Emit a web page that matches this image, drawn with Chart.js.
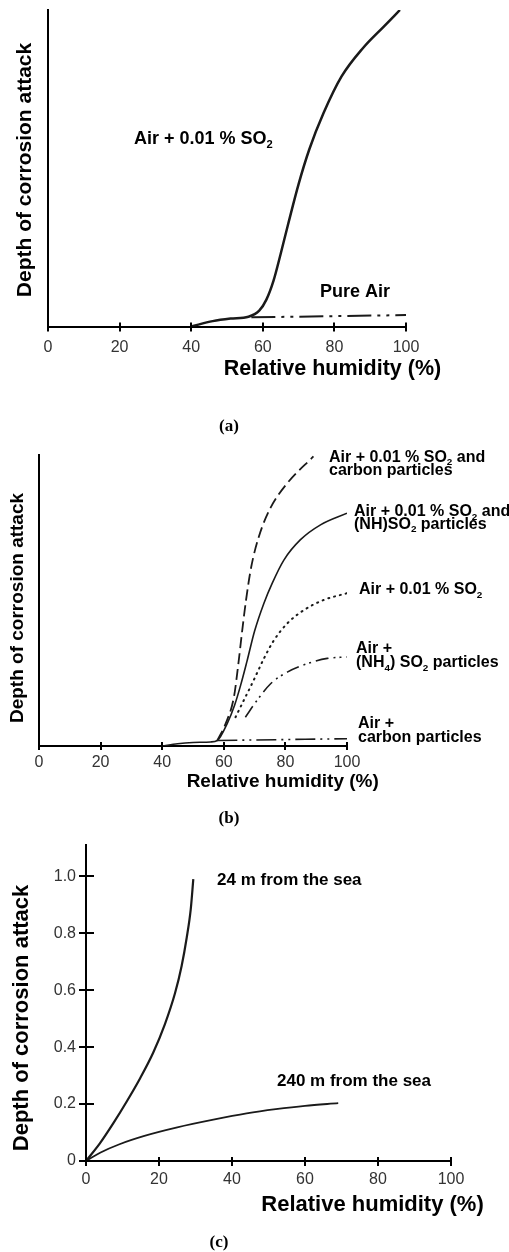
<!DOCTYPE html>
<html>
<head>
<meta charset="utf-8">
<script src="https://cdn.jsdelivr.net/npm/chart.js@4.4.1/dist/chart.umd.min.js"></script>
<style>
  html, body { margin: 0; padding: 0; background: #fff; }
  body { width: 509px; height: 1252px; position: relative; overflow: hidden; }
  canvas { position: absolute; left: 0; }
</style>
</head>
<body>
<canvas id="chart-a" width="509" height="440" style="top:0px"></canvas>
<canvas id="chart-b" width="509" height="400" style="top:440px"></canvas>
<canvas id="chart-c" width="509" height="432" style="top:820px"></canvas>
<script>
// --- Values ---
const rhTicks = [0, 20, 40, 60, 80, 100];
const depthTicksC = [0, 0.2, 0.4, 0.6, 0.8, 1.0];

// (a) arbitrary depth units, 0-100
const aSo2Rh = [40, 46, 51, 56, 59, 61, 63, 65, 67, 70, 73, 77, 82, 88, 94, 98.3];
const aSo2Depth = [0, 1.7, 2.5, 3.1, 5.0, 8.5, 14.5, 23, 32, 45, 56, 67.5, 79, 88, 95, 100];
const aPureRh = [56.8, 100];
const aPureDepth = [2.9, 3.6];

// (b) arbitrary depth units, 0-100
const bCarbonSo2Rh = [57.9, 60.6, 63.3, 64.7, 65.9, 67.2, 68.9, 71.4, 75.0, 80.6, 89.1];
const bCarbonSo2Depth = [1.9, 7.7, 16.9, 28, 39, 50, 61.5, 72, 81.5, 90.3, 99.5];
const bNhSo2Rh = [40, 45, 50, 55.7, 57.9, 61.1, 63.5, 65.5, 67.5, 70, 73, 75.7, 79.5, 84.9, 91.4, 100];
const bNhSo2Depth = [0, 0.8, 1.2, 1.4, 1.9, 7.7, 14, 21, 29, 39.5, 49, 55.9, 63.9, 70.9, 76.0, 80.0];
const bSo2Rh = [63.8, 66.5, 69.7, 73.0, 76.2, 80.6, 86.0, 92.5, 100];
const bSo2Depth = [9.9, 15.7, 22.6, 30, 36.2, 42.1, 46.7, 50.2, 52.5];
const bNh4Rh = [67.0, 70.8, 75.2, 80.6, 87.1, 93.6, 100];
const bNh4Depth = [9.9, 15.7, 21.4, 25.4, 28.3, 30.1, 30.6];
const bCarbonRh = [57.9, 100];
const bCarbonDepth = [1.9, 2.5];

// (c)
const c24Rh = [0, 3.8, 7.5, 11.2, 14.8, 18.4, 21.6, 24.4, 26.2, 27.6, 28.7, 29.4];
const c24Depth = [0, 0.062, 0.133, 0.21, 0.29, 0.38, 0.48, 0.59, 0.685, 0.785, 0.885, 0.99];
const c240Rh = [0, 4, 9, 16, 25, 34.9, 44, 52, 60, 69.1];
const c240Depth = [0, 0.03, 0.058, 0.088, 0.118, 0.145, 0.167, 0.182, 0.194, 0.203];

const SANS = "'Liberation Sans', Arial, sans-serif";
const SERIF = "'Liberation Serif', 'Times New Roman', serif";

function pts(xs, ys) {
  return xs.map((x, i) => ({ x, y: ys[i] }));
}

// text with "_2" style subscripts
function drawRich(ctx, it) {
  const parts = it.text.split(/_(\w)/);
  const size = it.size;
  const sub = size * 0.62;
  const fontFor = (s) => `${it.weight || "bold"} ${s}px ${it.family || SANS}`;
  let w = 0;
  parts.forEach((p, i) => {
    ctx.font = fontFor(i % 2 ? sub : size);
    w += ctx.measureText(p).width;
  });
  ctx.save();
  ctx.translate(it.x, it.y);
  if (it.rotate) ctx.rotate(it.rotate * Math.PI / 180);
  let x = it.align === "center" ? -w / 2 : it.align === "right" ? -w : 0;
  ctx.fillStyle = it.color || "#000";
  ctx.textAlign = "left";
  ctx.textBaseline = it.baseline || "alphabetic";
  parts.forEach((p, i) => {
    ctx.font = fontFor(i % 2 ? sub : size);
    ctx.fillText(p, x, i % 2 ? size * 0.22 : 0);
    x += ctx.measureText(p).width;
  });
  ctx.restore();
}

const textPlugin = {
  id: "texts",
  afterDraw(chart, args, opts) {
    (opts.items || []).forEach((it) => drawRich(chart.ctx, it));
  },
};

// tick stubs on the inner side of the axes
const innerTicks = {
  id: "innerTicks",
  afterDatasetsDraw(chart, args, opts) {
    const { ctx, scales } = chart;
    ctx.save();
    ctx.strokeStyle = "#000";
    ctx.lineWidth = 2;
    if (opts.x) {
      const s = scales.x;
      s.ticks.forEach((t) => {
        const px = Math.round(s.getPixelForValue(t.value));
        ctx.beginPath();
        ctx.moveTo(px, s.top);
        ctx.lineTo(px, s.top - opts.x);
        ctx.stroke();
      });
    }
    if (opts.y) {
      const s = scales.y;
      s.ticks.forEach((t) => {
        const py = Math.round(s.getPixelForValue(t.value));
        ctx.beginPath();
        ctx.moveTo(s.right, py);
        ctx.lineTo(s.right + opts.y, py);
        ctx.stroke();
      });
    }
    ctx.restore();
  },
};

function line(data, width, dash, extra) {
  return Object.assign({
    data,
    borderColor: "#1a1a1a",
    borderWidth: width,
    borderDash: dash || [],
    pointRadius: 0,
    cubicInterpolationMode: "monotone",
    fill: false,
  }, extra || {});
}

function buildChart(id, cfg) {
  const yScale = cfg.yTicks
    ? {
        type: "linear", min: 0, max: cfg.yMax,
        afterBuildTicks: (s) => { s.ticks = cfg.yTicks.map((v) => ({ value: v })); },
        afterFit: (s) => { s.width = cfg.yWidth; },
        border: { display: true, color: "#000", width: 2 },
        grid: { drawOnChartArea: false, drawTicks: true, tickLength: 7, color: "#000", lineWidth: 2 },
        ticks: {
          padding: 3, color: "#333", font: { family: SANS, size: 16 },
          callback: (v) => (v === 0 ? "0" : v.toFixed(1)),
        },
      }
    : {
        type: "linear", min: 0, max: cfg.yMax,
        afterFit: (s) => { s.width = cfg.yWidth; },
        border: { display: true, color: "#000", width: 2 },
        grid: { display: false },
        ticks: { display: false },
      };

  return new Chart(document.getElementById(id), {
    type: "line",
    data: { datasets: cfg.datasets },
    options: {
      responsive: false,
      animation: false,
      devicePixelRatio: 1,
      layout: { padding: cfg.padding },
      plugins: {
        legend: { display: false },
        tooltip: { enabled: false },
        texts: { items: cfg.texts },
        innerTicks: cfg.inner,
      },
      scales: {
        x: {
          type: "linear", min: 0, max: 100,
          afterBuildTicks: (s) => { s.ticks = rhTicks.map((v) => ({ value: v })); },
          afterFit: (s) => { s.height = cfg.xHeight; },
          border: { display: true, color: "#000", width: 2 },
          grid: { drawOnChartArea: false, drawTicks: true, tickLength: cfg.xTick, color: "#000", lineWidth: 2 },
          ticks: { padding: cfg.xPad, color: "#333", maxRotation: 0, font: { family: SANS, size: 16 } },
        },
        y: yScale,
      },
    },
    plugins: [textPlugin, innerTicks],
  });
}

// (a)
buildChart("chart-a", {
  padding: { top: 10, right: 103, left: 0, bottom: 0 },
  yWidth: 48, xHeight: 113.5, yMax: 100, xTick: 5, xPad: 6,
  inner: { x: 4 },
  datasets: [
    line(pts(aSo2Rh, aSo2Depth), 2.5),
    line(pts(aPureRh, aPureDepth), 2, [24, 6, 3, 6, 3, 6]),
  ],
  texts: [
    { text: "Depth of corrosion attack", x: 25, y: 170, size: 21, rotate: -90, baseline: "middle", align: "center" },
    { text: "Relative humidity (%)", x: 332.5, y: 375, size: 21.5, align: "center" },
    { text: "Air + 0.01 % SO_2", x: 134, y: 144, size: 18 },
    { text: "Pure Air", x: 320, y: 297, size: 18 },
    { text: "(a)", x: 229, y: 431, size: 17, family: SERIF, align: "center" },
  ],
});

// (b)
buildChart("chart-b", {
  padding: { top: 15, right: 162, left: 0, bottom: 0 },
  yWidth: 39, xHeight: 94, yMax: 100, xTick: 4, xPad: 3,
  inner: { x: 4 },
  datasets: [
    line(pts(bCarbonRh, bCarbonDepth), 1.6, [20, 5, 2, 5, 2, 5]),
    line(pts(bNh4Rh, bNh4Depth), 1.6, [13, 5, 2, 4, 2, 5]),
    line(pts(bSo2Rh, bSo2Depth), 2, [1, 5], { borderCapStyle: "round" }),
    line(pts(bNhSo2Rh, bNhSo2Depth), 1.6),
    line(pts(bCarbonSo2Rh, bCarbonSo2Depth), 1.8, [11, 5]),
  ],
  texts: [
    { text: "Depth of corrosion attack", x: 18, y: 168, size: 19, rotate: -90, baseline: "middle", align: "center" },
    { text: "Relative humidity (%)", x: 282.7, y: 346.7, size: 19, align: "center" },
    { text: "Air + 0.01 % SO_2 and", x: 329, y: 21.7, size: 16 },
    { text: "carbon particles", x: 329, y: 35, size: 16 },
    { text: "Air + 0.01 % SO_2 and", x: 354, y: 76, size: 16 },
    { text: "(NH)SO_2 particles", x: 354, y: 88.5, size: 16 },
    { text: "Air + 0.01 % SO_2", x: 359, y: 154, size: 16 },
    { text: "Air +", x: 356, y: 213, size: 16 },
    { text: "(NH_4) SO_2 particles", x: 356, y: 227, size: 16 },
    { text: "Air +", x: 358, y: 288, size: 16 },
    { text: "carbon particles", x: 358, y: 302, size: 16 },
    { text: "(b)", x: 229, y: 383, size: 17, family: SERIF, align: "center" },
  ],
});

// (c)
buildChart("chart-c", {
  padding: { top: 25, right: 58, left: 0, bottom: 0 },
  yWidth: 86, xHeight: 91, yMax: 1.11, yTicks: depthTicksC, xTick: 5, xPad: 4,
  inner: { x: 4, y: 8 },
  datasets: [
    line(pts(c24Rh, c24Depth), 2.2),
    line(pts(c240Rh, c240Depth), 1.8),
  ],
  texts: [
    { text: "Depth of corrosion attack", x: 22, y: 198, size: 22, rotate: -90, baseline: "middle", align: "center" },
    { text: "Relative humidity (%)", x: 372.5, y: 391, size: 22, align: "center" },
    { text: "24 m from the sea", x: 217, y: 65, size: 17 },
    { text: "240 m from the sea", x: 277, y: 265.7, size: 17 },
    { text: "(c)", x: 219, y: 427, size: 17, family: SERIF, align: "center" },
  ],
});
</script>
</body>
</html>
